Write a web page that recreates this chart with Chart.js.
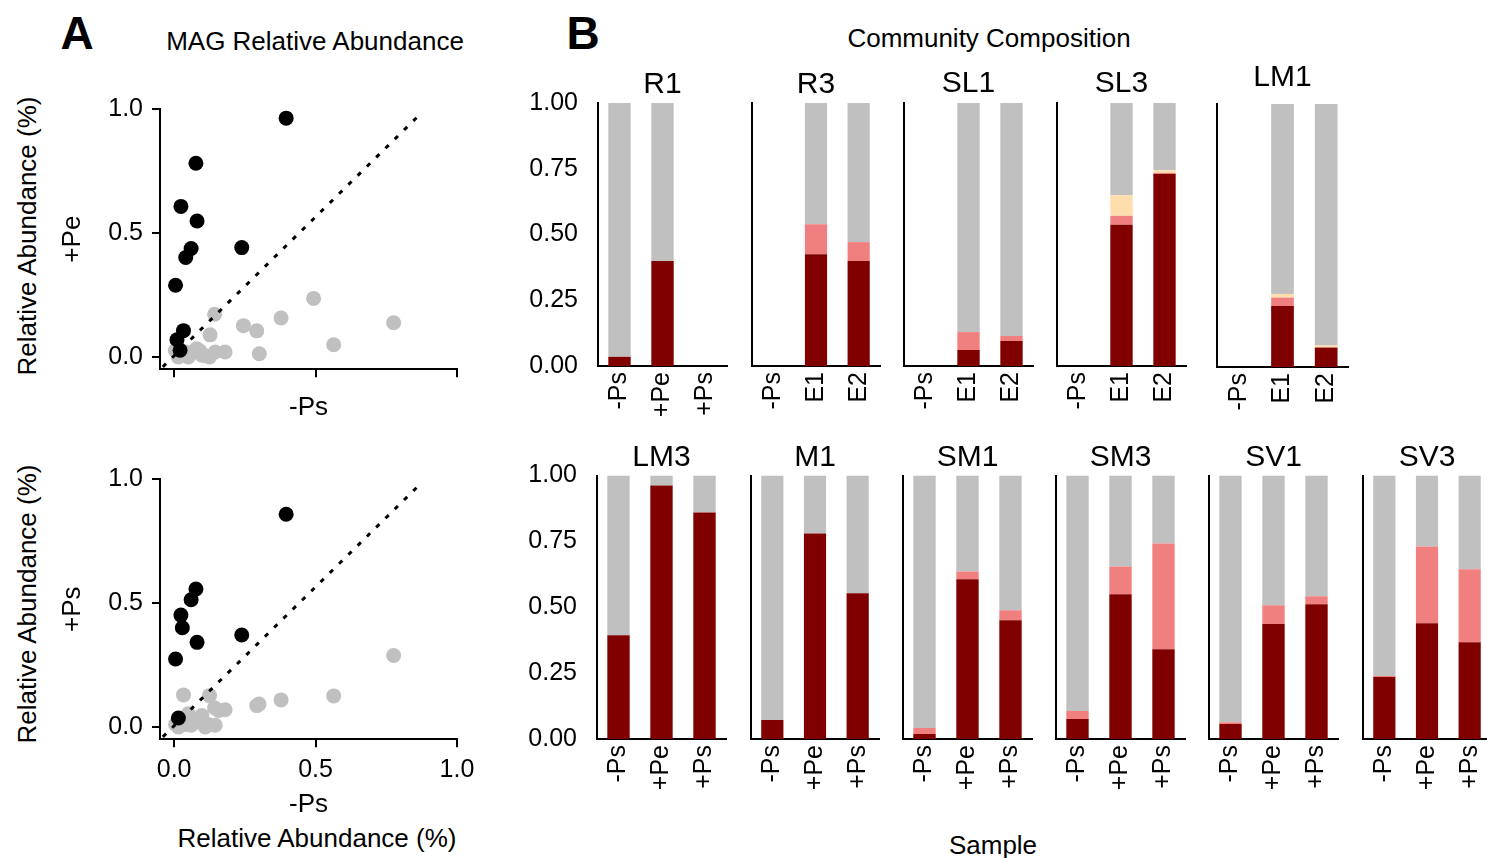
<!DOCTYPE html>
<html>
<head>
<meta charset="utf-8">
<script src="https://cdn.jsdelivr.net/npm/chart.js@4.4.1/dist/chart.umd.min.js"></script>
<style>
body { margin: 0; width: 1487px; height: 858px; overflow: hidden; background: #fff; position: relative;
       font-family: "Liberation Sans", Arial, sans-serif; color: #000; }
.plot { position: absolute; }
.label { position: absolute; white-space: nowrap; transform: translate(-50%, -50%); }
.vlabel { position: absolute; white-space: nowrap; transform: translate(-50%, -50%) rotate(-90deg); }
</style>
</head>
<body>
<div class="label" style="left:77px; top:33px; font-size:46px; font-weight:bold">A</div>
<div class="label" style="left:583px; top:33px; font-size:46px; font-weight:bold">B</div>
<div class="label" style="left:315px; top:41px; font-size:26px">MAG Relative Abundance</div>
<div class="label" style="left:989px; top:38px; font-size:26px">Community Composition</div>
<div class="label" style="left:993px; top:845px; font-size:26px">Sample</div>
<div class="label" style="left:317px; top:838px; font-size:26px">Relative Abundance (%)</div>
<div class="vlabel" style="left:27px; top:236px; font-size:26px">Relative Abundance (%)</div>
<div class="vlabel" style="left:27px; top:604px; font-size:26px">Relative Abundance (%)</div>

<script>
// ---- Panel A: MAG relative abundance, -Ps on x ----
const scatter_ticks = [0, 0.5, 1.0]
const diagonal_x = [-0.04, 0.875]
const diagonal_y = [-0.04, 0.985]

// +Pe vs -Ps
const pe_black_x = [0.396, 0.077, 0.024, 0.081, 0.060, 0.041, 0.239, 0.005, 0.033, 0.010, 0.021]
const pe_black_y = [0.963, 0.781, 0.607, 0.548, 0.437, 0.401, 0.441, 0.289, 0.106, 0.069, 0.027]
const pe_gray_x = [0.493, 0.776, 0.378, 0.245, 0.292, 0.564, 0.301, 0.143, 0.127, 0.180, 0.145, 0.074,
                   0.015, 0.050, 0.098, 0.004, 0.030, 0.110, 0.125, 0.060, 0.080, 0.040, 0.090]
const pe_gray_y = [0.236, 0.138, 0.157, 0.126, 0.105, 0.049, 0.013, 0.172, 0.089, 0.020, 0.020, 0.027,
                   0.000, 0.000, 0.007, 0.027, 0.010, 0.005, 0.000, 0.015, 0.033, 0.020, 0.025]

// +Ps vs -Ps
const ps_black_x = [0.396, 0.077, 0.060, 0.024, 0.029, 0.081, 0.239, 0.005, 0.015]
const ps_black_y = [0.858, 0.556, 0.513, 0.451, 0.400, 0.341, 0.371, 0.274, 0.036]
const ps_gray_x = [0.776, 0.564, 0.378, 0.292, 0.300, 0.033, 0.125, 0.143, 0.180, 0.157, 0.098, 0.050,
                   0.060, 0.145, 0.110, 0.015, 0.030, 0.080, 0.005, 0.120, 0.040, 0.090]
const ps_gray_y = [0.288, 0.125, 0.109, 0.086, 0.092, 0.129, 0.126, 0.077, 0.069, 0.066, 0.046, 0.053,
                   0.007, 0.007, 0.000, 0.000, 0.020, 0.030, 0.010, 0.010, 0.010, 0.020]

// ---- Panel B: community composition ----
const bar_y_ticks = [0, 0.25, 0.5, 0.75, 1.0]
const bar_titles = ["R1", "R3", "SL1", "SL3", "LM1", "LM3", "M1", "SM1", "SM3", "SV1", "SV3"]
const bar_samples = [
    ["-Ps", "+Pe", "+Ps"], ["-Ps", "E1", "E2"], ["-Ps", "E1", "E2"], ["-Ps", "E1", "E2"], ["-Ps", "E1", "E2"],
    ["-Ps", "+Pe", "+Ps"], ["-Ps", "+Pe", "+Ps"], ["-Ps", "+Pe", "+Ps"], ["-Ps", "+Pe", "+Ps"],
    ["-Ps", "+Pe", "+Ps"], ["-Ps", "+Pe", "+Ps"],
]
const dark_red = [
    [0.035, 0.399, 0], [0, 0.425, 0.399], [0, 0.061, 0.095], [0, 0.537, 0.730], [0, 0.232, 0.074],
    [0.394, 0.962, 0.860], [0.072, 0.780, 0.553], [0.019, 0.606, 0.451], [0.076, 0.549, 0.341],
    [0.057, 0.436, 0.511], [0.235, 0.439, 0.367],
]
const light_red = [
    [0, 0, 0], [0, 0.114, 0.072], [0, 0.068, 0.019], [0, 0.034, 0.004], [0, 0.032, 0],
    [0, 0, 0], [0, 0, 0], [0.023, 0.030, 0.038], [0.030, 0.106, 0.401],
    [0.007, 0.072, 0.031], [0.004, 0.292, 0.277],
]
const pale_yellow = [
    [0, 0, 0], [0, 0, 0], [0, 0, 0], [0, 0.078, 0.010], [0, 0.014, 0.008],
    [0, 0, 0], [0, 0, 0], [0, 0, 0], [0, 0, 0],
    [0, 0, 0], [0, 0, 0],
]
const gray_rest = [
    [0.965, 0.601, 0], [0, 0.461, 0.529], [0, 0.871, 0.886], [0, 0.351, 0.256], [0, 0.722, 0.918],
    [0.606, 0.038, 0.140], [0.928, 0.220, 0.447], [0.958, 0.364, 0.511], [0.894, 0.345, 0.258],
    [0.936, 0.492, 0.458], [0.761, 0.269, 0.356],
]

// where each bar panel's axes sit on the page (layout only)
const bar_boxes = [
    { left: 598,  right: 727,  top: 103,   bottom: 366, title_y: 85,    ticks: true },
    { left: 752,  right: 880,  top: 103,   bottom: 366, title_y: 85 },
    { left: 904,  right: 1033, top: 103,   bottom: 366, title_y: 84 },
    { left: 1057, right: 1186, top: 103,   bottom: 366, title_y: 84 },
    { left: 1217, right: 1348, top: 103.5, bottom: 367, title_y: 77.5 },
    { left: 597,  right: 726,  top: 475,   bottom: 739, title_y: 457.5, ticks: true },
    { left: 751,  right: 879,  top: 475,   bottom: 739, title_y: 457.5 },
    { left: 903,  right: 1032, top: 475,   bottom: 739, title_y: 457.5 },
    { left: 1056, right: 1185, top: 475,   bottom: 739, title_y: 457.5 },
    { left: 1209, right: 1338, top: 475,   bottom: 739, title_y: 457.5 },
    { left: 1363, right: 1491, top: 475,   bottom: 739, title_y: 457.5 },
]

Chart.defaults.font.family = "'Liberation Sans', Arial, sans-serif"
Chart.defaults.color = "#000"

function make_canvas(left, top, width, height)
{
    const canvas = document.createElement("canvas")
    canvas.className = "plot"
    canvas.width = width
    canvas.height = height
    canvas.style.left = left + "px"
    canvas.style.top = top + "px"
    canvas.style.width = width + "px"
    canvas.style.height = height + "px"
    document.body.appendChild(canvas)
    return canvas.getContext("2d")
}

function to_points(xs, ys)
{
    return xs.map((x, i) => ({ x: x, y: ys[i] }))
}

function plot_scatter(top, bottom, black_x, black_y, gray_x, gray_y, y_title, show_x_ticks)
{
    // plot area: x 160..457, y top..bottom
    const canvas_left = 40
    const canvas_top = top - 20
    const canvas_bottom = show_x_ticks ? 830 : 430
    const x_title_center = show_x_ticks ? 805 : 408
    const context_2d = make_canvas(canvas_left, canvas_top, 450, canvas_bottom - canvas_top)

    new Chart(context_2d, {
        type: "scatter",
        data: {
            datasets: [
                {
                    type: "line",
                    data: to_points(diagonal_x, diagonal_y),
                    borderColor: "#000",
                    borderWidth: 3,
                    borderDash: [4.5, 8.5],
                    pointRadius: 0,
                    fill: false,
                },
                {
                    data: to_points(black_x, black_y),
                    backgroundColor: "#000",
                    borderWidth: 0,
                    pointRadius: 7.5,
                },
                {
                    data: to_points(gray_x, gray_y),
                    backgroundColor: "#c0c0c0",
                    borderWidth: 0,
                    pointRadius: 7.5,
                },
            ]
        },
        options: {
            responsive: false,
            animation: false,
            layout: { padding: { top: 20, right: 33, left: 0, bottom: 0 } },
            plugins: { legend: { display: false }, tooltip: { enabled: false } },
            scales: {
                x: {
                    type: "linear",
                    min: -0.05,
                    max: 1.0,
                    afterBuildTicks: axis => { axis.ticks = scatter_ticks.map(v => ({ value: v })) },
                    grid: { display: true, drawOnChartArea: false, drawTicks: true, tickLength: 8, color: "#000", lineWidth: 2 },
                    border: { display: true, color: "#000", width: 2 },
                    ticks: { display: show_x_ticks, padding: 8, maxRotation: 0, font: { size: 25 }, callback: v => v.toFixed(1) },
                    title: {
                        display: true, text: "-Ps", font: { size: 26 },
                        padding: { top: 0, bottom: canvas_bottom - x_title_center - 15.6 },
                    },
                    afterFit: axis => { axis.height = canvas_bottom - bottom },
                },
                y: {
                    type: "linear",
                    min: -0.05,
                    max: 1.0,
                    afterBuildTicks: axis => { axis.ticks = scatter_ticks.map(v => ({ value: v })) },
                    grid: { display: true, drawOnChartArea: false, drawTicks: true, tickLength: 8, color: "#000", lineWidth: 2 },
                    border: { display: true, color: "#000", width: 2 },
                    ticks: { padding: 9, font: { size: 25 }, callback: v => v.toFixed(1) },
                    title: { display: true, text: y_title, font: { size: 26 }, padding: { top: 17.4, bottom: 0 } },
                    afterFit: axis => { axis.width = 120 },
                },
            }
        }
    })
}

function plot_bars(index)
{
    const box = bar_boxes[index]
    const y_width = box.ticks ? 83 : 6
    const x_height = 62
    const right_pad = 22
    const canvas_left = box.left - y_width
    const canvas_top = box.title_y - 20
    const width = box.right - box.left + y_width + right_pad
    const height = box.bottom - canvas_top + x_height
    const context_2d = make_canvas(canvas_left, canvas_top, width, height)

    const series = [
        { values: dark_red[index], color: "#800000" },
        { values: light_red[index], color: "#f08080" },
        { values: pale_yellow[index], color: "#ffdead" },
        { values: gray_rest[index], color: "#c0c0c0" },
    ]

    new Chart(context_2d, {
        type: "bar",
        data: {
            labels: bar_samples[index],
            datasets: series.map(s => ({
                data: s.values,
                backgroundColor: s.color,
                borderWidth: 0,
                categoryPercentage: 1.0,
                barPercentage: 0.52,
            }))
        },
        options: {
            responsive: false,
            animation: false,
            layout: { padding: { top: 0, right: right_pad, left: 0, bottom: 0 } },
            plugins: {
                legend: { display: false },
                tooltip: { enabled: false },
                title: {
                    display: true,
                    text: bar_titles[index],
                    fullSize: false,
                    font: { size: 30, weight: "normal", lineHeight: 1 },
                    padding: { top: 5, bottom: box.top - box.title_y - 15 },
                },
            },
            scales: {
                x: {
                    stacked: true,
                    grid: { display: false, drawTicks: false },
                    border: { display: true, color: "#000", width: 2 },
                    ticks: { minRotation: 90, maxRotation: 90, padding: 6, font: { size: 25 } },
                    afterFit: axis => { axis.height = x_height },
                },
                y: {
                    stacked: true,
                    min: 0,
                    max: 1,
                    afterBuildTicks: axis => { axis.ticks = bar_y_ticks.map(v => ({ value: v })) },
                    grid: { display: false, drawTicks: false },
                    border: { display: true, color: "#000", width: 2 },
                    ticks: { display: !!box.ticks, padding: 20, font: { size: 25 }, callback: v => v.toFixed(2) },
                    afterFit: axis => { axis.width = y_width },
                },
            }
        }
    })
}

plot_scatter(105, 369.3, pe_black_x, pe_black_y, pe_gray_x, pe_gray_y, "+Pe", false)
plot_scatter(475, 739.3, ps_black_x, ps_black_y, ps_gray_x, ps_gray_y, "+Ps", true)

for (let i = 0; i < bar_titles.length; ++i)
{
    plot_bars(i)
}
</script>
</body>
</html>
